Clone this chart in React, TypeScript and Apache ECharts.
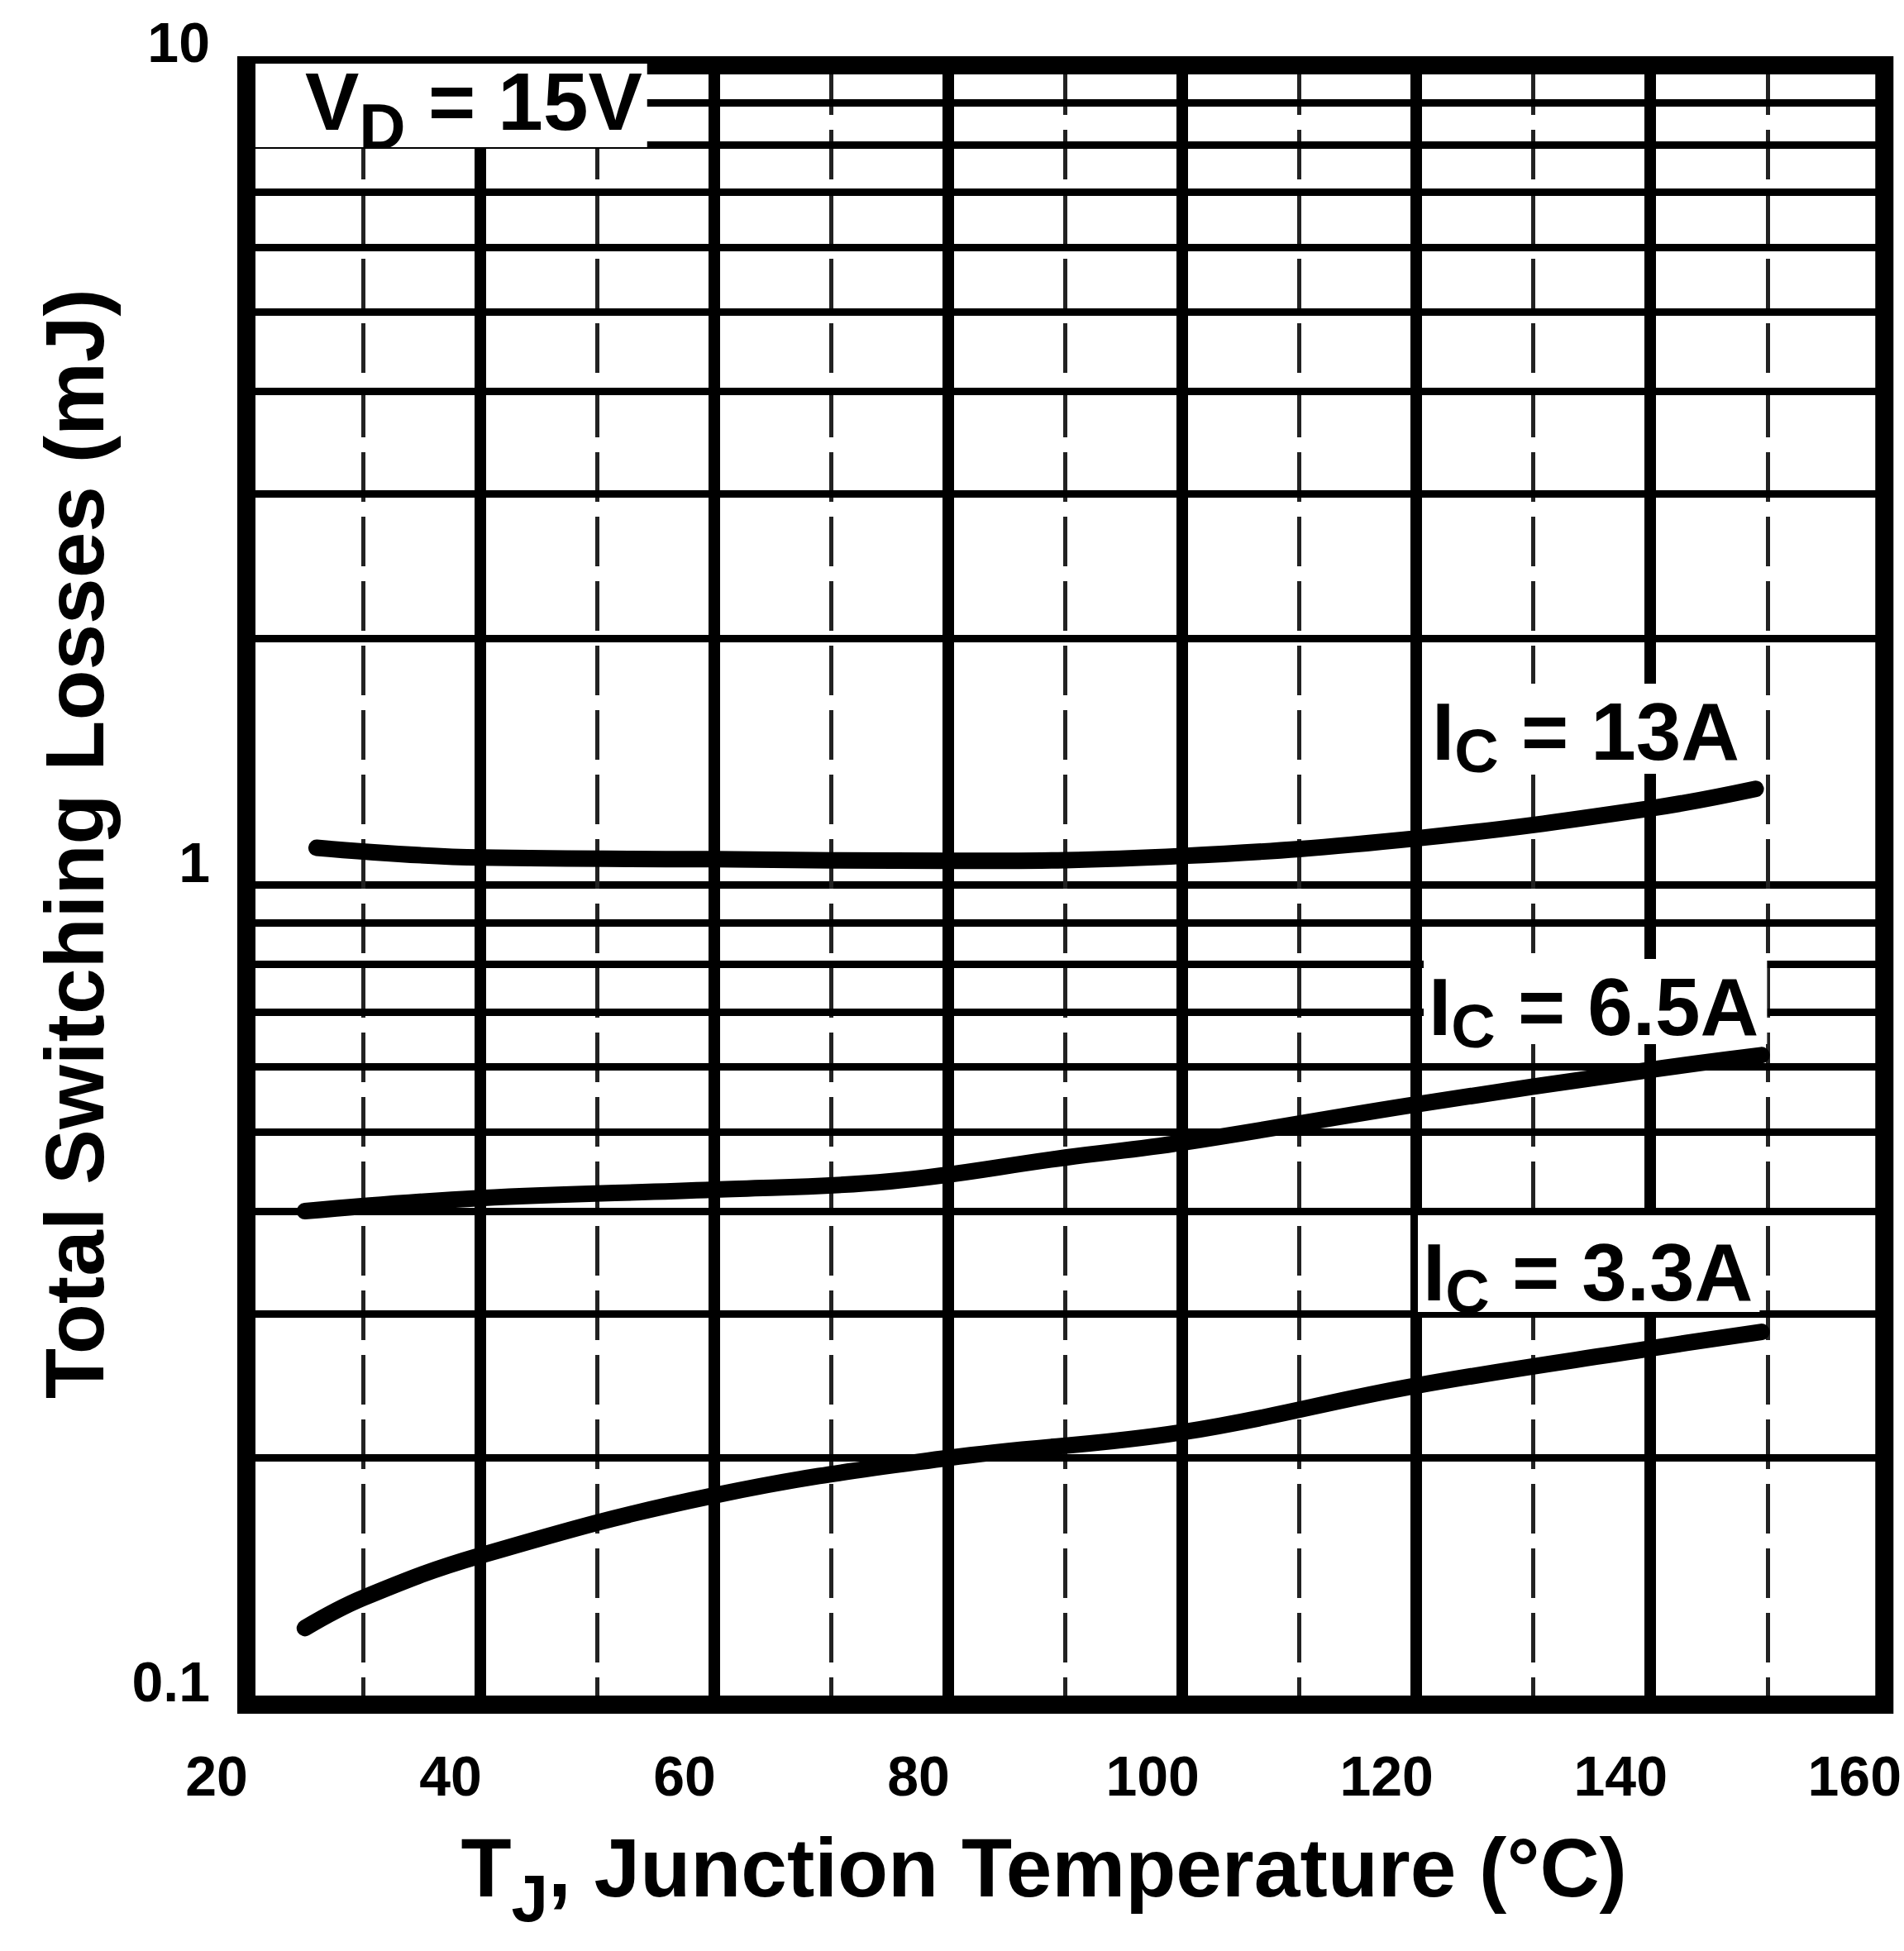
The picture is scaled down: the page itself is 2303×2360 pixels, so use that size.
import React, { useEffect, useRef } from "react";
import * as echarts from "echarts";

// ---- data ----
const xTickValues = [20, 40, 60, 80, 100, 120, 140, 160];
const yMinorGridValues = [0.2, 0.3, 0.4, 0.5, 0.6, 0.7, 0.8, 0.9, 2, 3, 4, 5, 6, 7, 8, 9];

const temp13A = [26, 40, 60, 80, 100, 120, 140, 149];
const loss13A = [1.11, 1.08, 1.075, 1.07, 1.085, 1.14, 1.24, 1.31];

const temp6p5A = [25, 40, 60, 75, 90, 100, 120, 140, 149.5];
const loss6p5A = [0.4, 0.415, 0.425, 0.435, 0.465, 0.485, 0.54, 0.595, 0.62];

const temp3p3A = [25, 30, 40, 60, 80, 100, 120, 140, 149.5];
const loss3p3A = [0.124, 0.135, 0.152, 0.18, 0.2, 0.215, 0.245, 0.272, 0.285];

const seriesNames = ["IC = 13A", "IC = 6.5A", "IC = 3.3A"];

const FONT = '"Liberation Sans", Arial, sans-serif';

const richLabel = {
  m: { fontSize: 98, fontWeight: "bold", fontFamily: FONT, color: "#000", lineHeight: 80 },
  d: { fontSize: 78, fontWeight: "bold", fontFamily: FONT, color: "#000", height: 21, lineHeight: 21, verticalAlign: "bottom" },
  s: { fontSize: 74, fontWeight: "bold", fontFamily: FONT, color: "#000", height: 33, lineHeight: 33, verticalAlign: "bottom" },
};

function label(text: string, x: number, y: number, padding: number[]) {
  return {
    type: "text",
    x,
    y,
    z: 50,
    style: {
      text,
      rich: richLabel,
      backgroundColor: "#fff",
      padding,
      align: "left",
      verticalAlign: "top",
    },
  };
}

export default function App() {
  const ref = useRef<HTMLDivElement>(null);

  useEffect(() => {
    if (!ref.current) return;
    const chart = echarts.init(ref.current, undefined, { renderer: "svg" });

    const curve = (name: string, xs: number[], ys: number[]) => ({
      name,
      type: "line",
      data: xs.map((t, i) => [t, ys[i]]),
      smooth: 0.4,
      showSymbol: false,
      symbol: "none",
      z: 5,
      lineStyle: { color: "#000", width: 20, cap: "round" },
    });

    chart.setOption({
      animation: false,
      backgroundColor: "#fff",
      grid: {
        left: 298,
        right: 21,
        top: 79,
        bottom: 298,
        show: true,
        borderColor: "#000",
        borderWidth: 22,
        backgroundColor: "transparent",
        z: 3,
      },
      xAxis: {
        type: "value",
        min: xTickValues[0],
        max: xTickValues[xTickValues.length - 1],
        interval: 20,
        axisLine: { show: false },
        axisTick: { show: false },
        axisLabel: {
          color: "#000",
          fontSize: 68,
          fontWeight: "bold",
          fontFamily: FONT,
          margin: 52,
          padding: [0, 72, 0, 0],
        },
        splitLine: { show: true, lineStyle: { color: "#000", width: 14 } },
        minorTick: { show: false, splitNumber: 2 },
        minorSplitLine: { show: true, lineStyle: { color: "#222", width: 5, type: [60, 18] } },
        name: "{m|T}{s|J}{m|, Junction Temperature (°C)}",
        nameLocation: "middle",
        nameGap: 152,
        nameTextStyle: {
          padding: [0, 52, 0, 0],
          rich: {
            m: { fontSize: 100, fontWeight: "bold", fontFamily: FONT, color: "#000", lineHeight: 90 },
            s: { fontSize: 80, fontWeight: "bold", fontFamily: FONT, color: "#000", height: 16, lineHeight: 16, verticalAlign: "bottom" },
          },
        },
      },
      yAxis: {
        type: "log",
        logBase: 10,
        min: 0.1,
        max: 10,
        axisLine: { show: false },
        axisTick: { show: false },
        axisLabel: {
          color: "#000",
          fontSize: 68,
          fontWeight: "bold",
          fontFamily: FONT,
          margin: 44,
          lineHeight: 56,
          verticalAlign: "bottom",
          formatter: (v: number) => (v < 1 ? "0.1" : String(Math.round(v))),
        },
        splitLine: { show: true, lineStyle: { color: "#000", width: 9 } },
        name: "Total Switching Losses (mJ)",
        nameLocation: "middle",
        nameGap: 158,
        nameTextStyle: {
          fontSize: 100,
          fontWeight: "bold",
          fontFamily: FONT,
          color: "#000",
          padding: [0, 0, 0, 100],
        },
      },
      series: [
        {
          name: "grid",
          type: "line",
          data: [],
          z: 1,
          markLine: {
            silent: true,
            symbol: ["none", "none"],
            label: { show: false },
            lineStyle: { color: "#000", width: 9, type: "solid" },
            data: yMinorGridValues.map((v) => ({ yAxis: v })),
          },
        },
        curve(seriesNames[0], temp13A, loss13A),
        curve(seriesNames[1], temp6p5A, loss6p5A),
        curve(seriesNames[2], temp3p3A, loss3p3A),
      ],
      graphic: [
        label("{m|V}{d|D}{m| = 15V}", 309, 77, [6, 6, 15, 60]),
        label("{m|I}{s|C}{m| = 13A}", 1726, 827, [18, 22, 11, 6]),
        label("{m|I}{s|C}{m| = 6.5A}", 1722, 1160, [18, 10, 5, 6]),
        label("{m|I}{s|C}{m| = 3.3A}", 1715, 1470, [29, 8, 8, 6]),
      ],
    });

    return () => chart.dispose();
  }, []);

  return (
    <div
      ref={ref}
      style={{ position: "fixed", left: 0, top: 0, width: 2303, height: 2360, background: "#fff" }}
    />
  );
}
